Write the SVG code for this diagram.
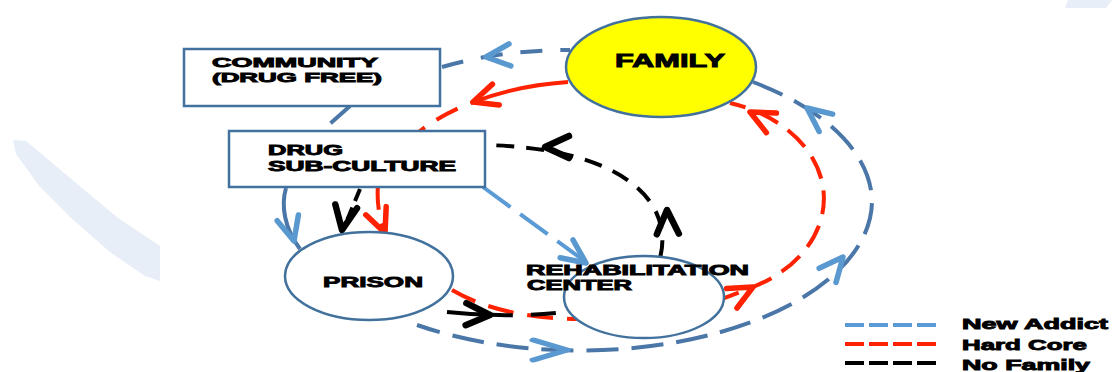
<svg xmlns="http://www.w3.org/2000/svg" xmlns:xlink="http://www.w3.org/1999/xlink" width="1116" height="372" viewBox="0 0 1116 372">
<style>
.bg{fill:#e7eef8;stroke:none}
.box{fill:#ffffff;stroke:#41719c;stroke-width:2.5}
.fam{fill:#ffff00;stroke:#41719c;stroke-width:2.5}
.ell{fill:#ffffff;stroke:#41719c;stroke-width:2.5}
.lbl{font-family:"Liberation Sans",Arial,sans-serif;font-weight:bold;fill:#000;stroke:#000;stroke-width:0.9}
.c{fill:none;stroke-linecap:butt}
.blue{stroke:#4a76a8;stroke-width:4}
.lblue{stroke:#5b9bd5;stroke-width:4}
.red{stroke:#ff2200;stroke-width:4}
.blk{stroke:#000;stroke-width:4}
.ah{fill:none;stroke-width:5.5;stroke-linecap:round;stroke-linejoin:round}
.ab{stroke:#5a98d0}
.ar{stroke:#ff2200}
.ak{stroke:#000;stroke-width:6.5}
</style>
<defs>
<path id="ah" d="M-24,-11 L0,0 L-24,11"/>
</defs>
<g id="background">
<polygon class="bg" points="13,140 26,141 70,178 118,218 160,246 160,281 145,276 110,252 70,217 40,187 16,154"/>
<polygon class="bg" points="1068,0 1112,0 1106,8 1065,8"/>
</g>
<g id="connectors">
<path class="c blue" d="M442,67 Q500,50 570,50" stroke-dasharray="22 18"/>
<path class="c blue" d="M753,82 A292,150 0 0 1 872,200 A292,150 0 0 1 417,325" stroke-dasharray="32 13"/>
<path class="c blue" d="M350,106 L322,131" stroke-dasharray="26 20"/>
<path class="c blue" d="M286,188 C281,205 284,228 300,249"/>
<path class="c lblue" d="M483,187 L590,265" stroke-dasharray="34 12"/>
<path class="c red" d="M568,82 C480,88 400,125 378,185 Q376,210 385,233" stroke-dasharray="100 14 24 14 24 14 24 14 24 14"/>
<path class="c red" d="M452,290 Q500,318 577,319" stroke-dasharray="26 14"/>
<path class="c red" d="M716,301 Q735,294 753,287 A133,100 0 0 0 730,103" stroke-dasharray="24 12"/>
<path class="c blk" d="M660,258 C675,200 620,148 485,145" stroke-dasharray="18 12"/>
<path class="c blk" d="M360,189 L343,230" stroke-dasharray="13 7"/>
<path class="c blk" d="M447,312 Q500,318 556,313" stroke-dasharray="66 18 25 10"/>
<use xlink:href="#ah" class="ah ab" transform="translate(486,57) rotate(175)"/>
<use xlink:href="#ah" class="ah ab" transform="translate(807,108) rotate(-142)"/>
<use xlink:href="#ah" class="ah ab" transform="translate(843,257) rotate(-50)"/>
<use xlink:href="#ah" class="ah ab" transform="translate(567,350) rotate(0) scale(1.4,0.9)"/>
<use xlink:href="#ah" class="ah ab" transform="translate(294,241) rotate(75)"/>
<use xlink:href="#ah" class="ah ab" transform="translate(586,263) rotate(36)"/>
<use xlink:href="#ah" class="ah ar" transform="translate(473,102) rotate(162)"/>
<use xlink:href="#ah" class="ah ar" transform="translate(385,233) rotate(68)"/>
<use xlink:href="#ah" class="ah ar" transform="translate(753,287) rotate(-28)"/>
<use xlink:href="#ah" class="ah ar" transform="translate(750,112) rotate(-153)"/>
<use xlink:href="#ah" class="ah ak" transform="translate(667,210) rotate(-92)"/>
<use xlink:href="#ah" class="ah ak" transform="translate(545,147) rotate(180)"/>
<use xlink:href="#ah" class="ah ak" transform="translate(342,230) rotate(100)"/>
<use xlink:href="#ah" class="ah ak" transform="translate(490,315) rotate(2)"/>
</g>
<g id="community">
<rect class="box" x="184" y="49" width="256" height="57"/>
<text class="lbl" x="212" y="67" font-size="13.5" textLength="166" lengthAdjust="spacingAndGlyphs">COMMUNITY</text>
<text class="lbl" x="212" y="82" font-size="13.5" textLength="170" lengthAdjust="spacingAndGlyphs">(DRUG FREE)</text>
</g>
<g id="drug-subculture">
<rect class="box" x="229" y="131" width="256" height="56"/>
<text class="lbl" x="268" y="155" font-size="14" textLength="75" lengthAdjust="spacingAndGlyphs">DRUG</text>
<text class="lbl" x="268" y="171" font-size="14" textLength="188" lengthAdjust="spacingAndGlyphs">SUB-CULTURE</text>
</g>
<g id="family">
<ellipse class="fam" cx="661" cy="67" rx="95" ry="50"/>
<text class="lbl" x="615" y="67" font-size="18" textLength="110" lengthAdjust="spacingAndGlyphs">FAMILY</text>
</g>
<g id="prison">
<ellipse class="ell" cx="369" cy="276" rx="84" ry="44"/>
<text class="lbl" x="323" y="287" font-size="15" textLength="100" lengthAdjust="spacingAndGlyphs">PRISON</text>
</g>
<g id="rehabilitation-center">
<ellipse class="ell" cx="644" cy="297" rx="80" ry="41"/>
<text class="lbl" x="526" y="275" font-size="14" textLength="223" lengthAdjust="spacingAndGlyphs">REHABILITATION</text>
<text class="lbl" x="527" y="290" font-size="14" textLength="105" lengthAdjust="spacingAndGlyphs">CENTER</text>
</g>
<g id="legend">
<line x1="845" y1="325" x2="936" y2="325" stroke="#5b9bd5" stroke-width="4" stroke-dasharray="19 5"/>
<line x1="845" y1="344" x2="936" y2="344" stroke="#ff2200" stroke-width="4" stroke-dasharray="19 5"/>
<line x1="845" y1="363" x2="936" y2="363" stroke="#000" stroke-width="4" stroke-dasharray="19 5"/>
<text class="lbl" x="962" y="329" font-size="15" textLength="146" lengthAdjust="spacingAndGlyphs">New Addict</text>
<text class="lbl" x="962" y="350" font-size="15" textLength="125" lengthAdjust="spacingAndGlyphs">Hard Core</text>
<text class="lbl" x="962" y="370" font-size="15" textLength="128" lengthAdjust="spacingAndGlyphs">No Family</text>
</g>
</svg>
